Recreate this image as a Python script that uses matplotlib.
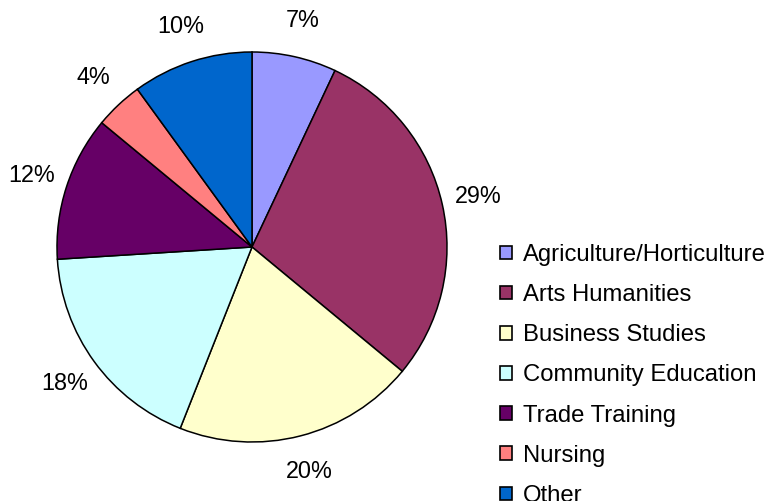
import matplotlib
matplotlib.use("Agg")
import matplotlib.pyplot as plt

categories = ["Agriculture/Horticulture", "Arts Humanities", "Business Studies",
              "Community Education", "Trade Training", "Nursing", "Other"]
values = [7, 29, 20, 18, 12, 4, 10]
colors = ["#9999FF", "#993366", "#FFFFCC", "#CCFFFF", "#660066", "#FF8080", "#0066CC"]

plt.rcParams['font.family'] = ['Liberation Sans', 'DejaVu Sans']
W, H = 769, 501
fig = plt.figure(figsize=(W / 100, H / 100), dpi=100)
cx, cy, r = 252, 247, 195
ax = fig.add_axes([(cx - r) / W, (H - cy - r) / H, 2 * r / W, 2 * r / H])
wedges, texts, autotexts = ax.pie(
    values, colors=colors, startangle=90, counterclock=False,
    autopct=lambda p: f"{p:.0f}%", pctdistance=1.19,
    wedgeprops=dict(edgecolor="black", linewidth=1.1),
    textprops=dict(fontsize=16.8, color="black"), radius=1.0)
ax.set_xlim(-1, 1)
ax.set_ylim(-1, 1)
ax.set_aspect('equal')
for t in autotexts:
    t.set_clip_on(False)

leg = fig.legend(wedges, categories, loc="upper left",
                 bbox_to_anchor=(500 / W, 1 - 244 / H), frameon=False,
                 fontsize=17.2, handlelength=0.5, handleheight=0.5,
                 handletextpad=0.45, labelspacing=0.76, borderpad=0,
                 borderaxespad=0)
for h in leg.legend_handles:
    h.set_edgecolor("black")
    h.set_linewidth(1.2)

fig.savefig("out.png", dpi=100)
